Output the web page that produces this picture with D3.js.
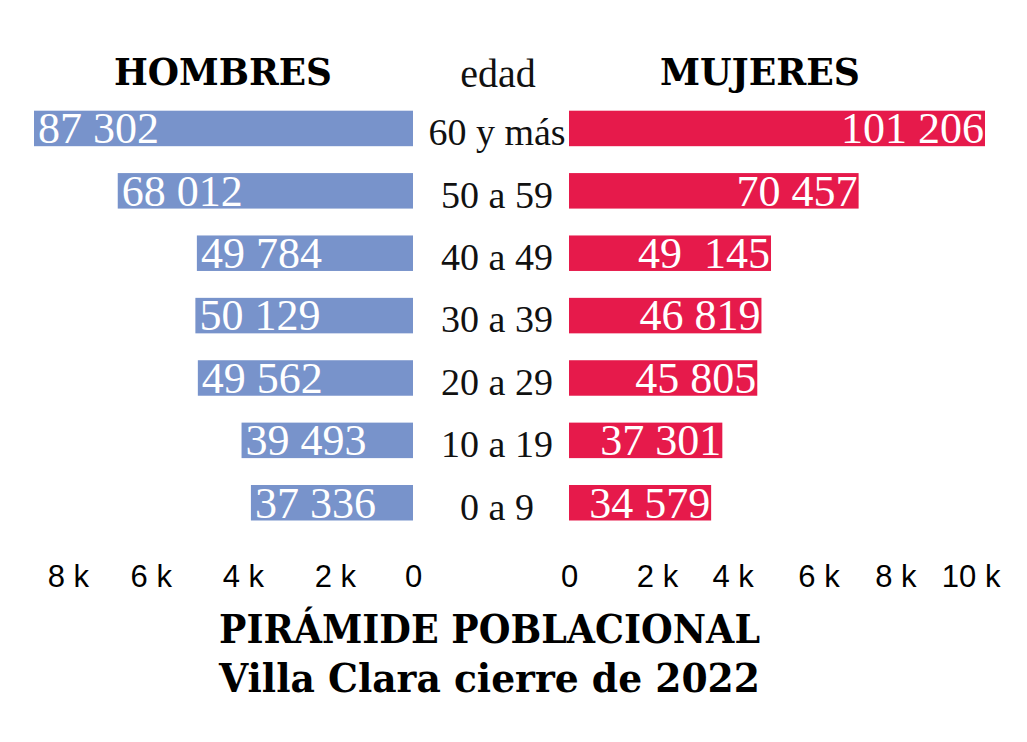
<!DOCTYPE html>
<html>
<head>
<meta charset="utf-8">
<script src="https://cdn.jsdelivr.net/npm/d3@7"></script>
<style>
  html, body { margin: 0; padding: 0; background: #ffffff; }
  svg { display: block; }
</style>
</head>
<body>
<svg id="chart" width="1027" height="742"></svg>
<script>
// ---- data ----
const ages = ["60 y más", "50 a 59", "40 a 49", "30 a 39", "20 a 29", "10 a 19", "0 a 9"];
const hombres = [87302, 68012, 49784, 50129, 49562, 39493, 37336];
const mujeres = [101206, 70457, 49145, 46819, 45805, 37301, 34579];
const hombresLabels = ["87 302", "68 012", "49 784", "50 129", "49 562", "39 493", "37 336"];
const mujeresLabels = ["101 206", "70 457", "49  145", "46 819", "45 805", "37 301", "34 579"];
const leftTickValues = [0, 18000, 39200, 60400, 79500];
const leftTickLabels = ["0", "2 k", "4 k", "6 k", "8 k"];
const rightTickValues = [0, 21400, 39800, 60700, 79400, 97700];
const rightTickLabels = ["0", "2 k", "4 k", "6 k", "8 k", "10 k"];
const headerLeft = "HOMBRES";
const headerRight = "MUJERES";
const headerCenter = "edad";
const titleLines = ["PIRÁMIDE POBLACIONAL", "Villa Clara cierre de 2022"];

// ---- layout ----
const BLUE = "#7893cb";
const RED = "#e61a4b";
const serif = "'Liberation Serif', 'Times New Roman', serif";
const boldSerif = "'DejaVu Serif', serif";
const sans = "'Liberation Sans', Arial, sans-serif";

const svg = d3.select("#chart");

const y = d3.scaleBand().domain(ages).range([110.7, 520.5]).paddingInner(0.431).paddingOuter(0);
const xL = d3.scaleLinear().domain([0, d3.max(hombres)]).range([413, 34]);
const xR = d3.scaleLinear().domain([0, d3.max(mujeres)]).range([569, 985]);

const rows = ages.map((a, i) => ({ age: a, h: hombres[i], m: mujeres[i], hl: hombresLabels[i], ml: mujeresLabels[i] }));

// bars
svg.append("g").selectAll("rect").data(rows).join("rect")
  .attr("x", d => xL(d.h)).attr("y", d => y(d.age))
  .attr("width", d => xL(0) - xL(d.h)).attr("height", y.bandwidth())
  .attr("fill", BLUE);
svg.append("g").selectAll("rect").data(rows).join("rect")
  .attr("x", xR(0)).attr("y", d => y(d.age))
  .attr("width", d => xR(d.m) - xR(0)).attr("height", y.bandwidth())
  .attr("fill", RED);

// value labels
svg.append("g").selectAll("text").data(rows).join("text")
  .attr("x", d => xL(d.h) + 4).attr("y", d => y(d.age) + y.bandwidth() - 3)
  .attr("font-family", serif).attr("font-size", 44).attr("fill", "#ffffff")
  .style("white-space", "pre")
  .text(d => d.hl);
svg.append("g").selectAll("text").data(rows).join("text")
  .attr("x", d => xR(d.m) - 1).attr("y", d => y(d.age) + y.bandwidth() - 3)
  .attr("text-anchor", "end")
  .attr("font-family", serif).attr("font-size", 44).attr("fill", "#ffffff")
  .style("white-space", "pre")
  .text(d => d.ml);

// age labels
svg.append("g").selectAll("text").data(rows).join("text")
  .attr("x", 497).attr("y", d => y(d.age) + y.bandwidth() - 1)
  .attr("text-anchor", "middle")
  .attr("font-family", serif).attr("font-size", 38).attr("fill", "#111111")
  .text(d => d.age);

// headers
svg.append("text").attr("x", 114).attr("y", 85)
  .attr("font-family", boldSerif).attr("font-weight", "bold").attr("font-size", 38)
  .attr("textLength", 218).attr("lengthAdjust", "spacingAndGlyphs")
  .attr("fill", "#000").text(headerLeft);
svg.append("text").attr("x", 660).attr("y", 85)
  .attr("font-family", boldSerif).attr("font-weight", "bold").attr("font-size", 38)
  .attr("textLength", 200).attr("lengthAdjust", "spacingAndGlyphs")
  .attr("fill", "#000").text(headerRight);
svg.append("text").attr("x", 498).attr("y", 87)
  .attr("text-anchor", "middle")
  .attr("font-family", serif).attr("font-size", 40)
  .attr("fill", "#111").text(headerCenter);

// axes
const axL = d3.axisBottom(xL).tickValues(leftTickValues).tickSize(0).tickPadding(0)
  .tickFormat((d, i) => leftTickLabels[i]);
const axR = d3.axisBottom(xR).tickValues(rightTickValues).tickSize(0).tickPadding(0)
  .tickFormat((d, i) => rightTickLabels[i]);
function styleAxis(g) {
  g.select(".domain").remove();
  g.selectAll("text")
    .attr("font-family", sans).attr("font-size", 31).attr("fill", "#000")
    .attr("dy", null).attr("y", 0);
}
svg.append("g").attr("transform", "translate(0,587)").call(axL).call(styleAxis);
svg.append("g").attr("transform", "translate(0,587)").call(axR).call(styleAxis);

// title
svg.append("g").selectAll("text").data(titleLines).join("text")
  .attr("x", 219).attr("y", (d, i) => 643 + i * 49)
  .attr("font-family", boldSerif).attr("font-weight", "bold").attr("font-size", 40)
  .attr("textLength", 541).attr("lengthAdjust", "spacingAndGlyphs")
  .attr("fill", "#000").text(d => d);
</script>
</body>
</html>
